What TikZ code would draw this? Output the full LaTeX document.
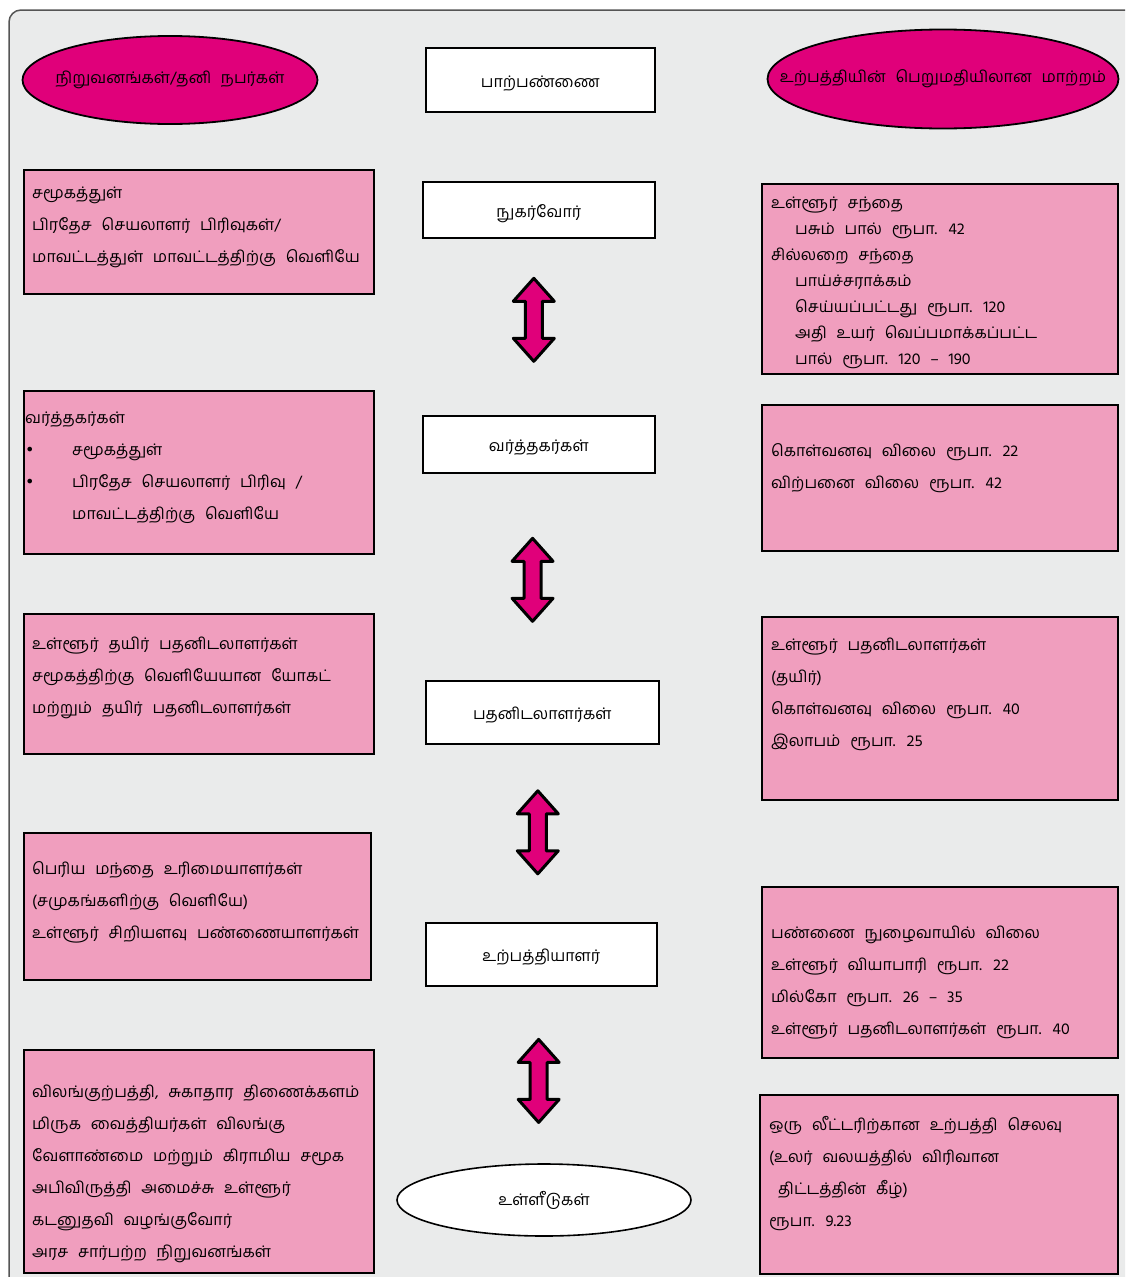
\documentclass[tikz,border=0pt]{standalone}
\usepackage{fontspec}
\usepackage{tikz}
\usetikzlibrary{shapes.geometric}
\usetikzlibrary{calc,positioning}
\newfontfamily\tamilfont[Script=Tamil,WordSpace=2.5]{Hind Madurai}
\newfontfamily\symbolfont{DejaVu Sans}
\definecolor{panelgray}{RGB}{234,235,235}
\definecolor{panelline}{RGB}{85,85,85}
\definecolor{magentafill}{RGB}{224,0,122}
\definecolor{pinkfill}{RGB}{240,158,190}
\newcommand{\bul}{\makebox[47pt][l]{\symbolfont •}}
\newcommand{\ind}{\hspace*{24pt}}

\begin{document}
\begin{tikzpicture}[x=1pt,y=-1pt,
	tamil/.style={font=\tamilfont\fontsize{16}{32}\selectfont},
	pinkbox/.style={draw,line width=2pt,fill=pinkfill,anchor=north west,inner sep=0pt},
	whitebox/.style={draw,line width=1.6pt,fill=white,anchor=north west,inner sep=0pt,tamil,text height=15pt,text depth=0pt},
	oval/.style={ellipse,draw,line width=1.8pt,fill=magentafill,inner sep=0pt},
	boxtext/.style={tamil,align=left,inner sep=0pt,execute at begin node=\strut},
	flow/.pic={\draw[line width=3pt,line join=round,fill=magentafill]
		(0,-41.5) -- (20.5,-18.5) -- (8.5,-18.5) -- (8.5,18.5) -- (20.5,18.5) -- (0,41.5)
		-- (-20.5,18.5) -- (-8.5,18.5) -- (-8.5,-18.5) -- (-20.5,-18.5) -- cycle;}]
			\useasboundingbox (0,0) rectangle (1125,1277);
			\clip (0,0) rectangle (1125,1277);
			\draw[panelline,line width=1.5pt,fill=panelgray,rounded corners=12pt] (9,10) rectangle (1145,1290);

			\node[oval,minimum width=295pt,minimum height=88pt] (leftOval) at (170,80) {};
			\node[tamil] (leftOvalt) at (leftOval.center) {நிறுவனங்கள்/தனி நபர்கள்};
			\node[oval,minimum width=351pt,minimum height=99pt] (rightOval) at (943,79) {};
			\node[tamil] (rightOvalt) at (rightOval.center) {உற்பத்தியின் பெறுமதியிலான மாற்றம்};

			\node[whitebox,minimum width=229pt,minimum height=64pt] (parpannai) at (425,47) {பாற்பண்ணை};
			\node[whitebox,minimum width=232pt,minimum height=56pt] (nugarvor) at (422,181) {நுகர்வோர்};
			\node[whitebox,minimum width=232pt,minimum height=57pt] (varthagar) at (422,415) {வர்த்தகர்கள்};
			\node[whitebox,minimum width=233pt,minimum height=63pt] (pathanidal) at (425,680) {பதனிடலாளர்கள்};
			\node[whitebox,minimum width=231pt,minimum height=63pt] (urpathi) at (425,922) {உற்பத்தியாளர்};
			\node[ellipse,draw,line width=1.6pt,fill=white,inner sep=0pt,tamil,minimum width=294pt,minimum height=72pt] (ulleedu) at (544,1200) {உள்ளீடுகள்};

			\node[pinkbox,minimum width=350pt,minimum height=124pt] (nugarvorL) at (23,169) {};
			\node[pinkbox,minimum width=350pt,minimum height=163pt] (varthagarL) at (23,390) {};
			\node[pinkbox,minimum width=350pt,minimum height=140pt] (pathanidalL) at (23,613) {};
			\node[pinkbox,minimum width=347pt,minimum height=147pt] (urpathiL) at (23,832) {};
			\node[pinkbox,minimum width=350pt,minimum height=223pt] (ulleeduL) at (23,1049) {};

			\node[pinkbox,minimum width=356pt,minimum height=190pt] (nugarvorR) at (761,183) {};
			\node[pinkbox,minimum width=356pt,minimum height=146pt] (varthagarR) at (761,404) {};
			\node[pinkbox,minimum width=356pt,minimum height=183pt] (pathanidalR) at (761,616) {};
			\node[pinkbox,minimum width=356pt,minimum height=171pt] (urpathiR) at (761,886) {};
			\node[pinkbox,minimum width=358pt,minimum height=179pt] (ulleeduR) at (759,1094) {};

			\node[boxtext,below right=18pt and 9pt of nugarvorL.north west] (nugarvorLt)
				{சமூகத்துள்\\பிரதேச செயலாளர் பிரிவுகள்/\\மாவட்டத்துள் மாவட்டத்திற்கு வெளியே};
			\node[boxtext,below right=22pt and 2pt of varthagarL.north west] (varthagarLt)
				{வர்த்தகர்கள்\\\bul சமூகத்துள்\\\bul பிரதேச செயலாளர் பிரிவு /\\\hspace*{47pt}மாவட்டத்திற்கு வெளியே};
			\node[boxtext,below right=24pt and 9pt of pathanidalL.north west] (pathanidalLt)
				{உள்ளூர் தயிர் பதனிடலாளர்கள்\\சமூகத்திற்கு வெளியேயான யோகட்\\மற்றும் தயிர் பதனிடலாளர்கள்};
			\node[boxtext,below right=29pt and 9pt of urpathiL.north west] (urpathiLt)
				{பெரிய மந்தை உரிமையாளர்கள்\\(சமுகங்களிற்கு வெளியே)\\உள்ளூர் சிறியளவு பண்ணையாளர்கள்};
			\node[boxtext,below right=36pt and 9pt of ulleeduL.north west] (ulleeduLt)
				{விலங்குற்பத்தி, சுகாதார திணைக்களம்\\மிருக வைத்தியர்கள் விலங்கு\\வேளாண்மை மற்றும் கிராமிய சமூக\\அபிவிருத்தி அமைச்சு உள்ளூர்\\கடனுதவி வழங்குவோர்\\அரச சார்பற்ற நிறுவனங்கள்};

			\node[boxtext,font=\tamilfont\fontsize{16}{26}\selectfont,below right=14pt and 10pt of nugarvorR.north west] (nugarvorRt)
				{உள்ளூர் சந்தை\\\ind பசும் பால் ரூபா. 42\\சில்லறை சந்தை\\\ind பாய்ச்சராக்கம்\\\ind செய்யப்பட்டது ரூபா. 120\\\ind அதி உயர் வெப்பமாக்கப்பட்ட\\\ind பால் ரூபா. 120 – 190};
			\node[boxtext,below right=39pt and 10pt of varthagarR.north west] (varthagarRt)
				{கொள்வனவு விலை ரூபா. 22\\விற்பனை விலை ரூபா. 42};
			\node[boxtext,below right=22pt and 10pt of pathanidalR.north west] (pathanidalRt)
				{உள்ளூர் பதனிடலாளர்கள்\\(தயிர்)\\கொள்வனவு விலை ரூபா. 40\\இலாபம் ரூபா. 25};
			\node[boxtext,below right=40pt and 10pt of urpathiR.north west] (urpathiRt)
				{பண்ணை நுழைவாயில் விலை\\உள்ளூர் வியாபாரி ரூபா. 22\\மில்கோ ரூபா. 26 – 35\\உள்ளூர் பதனிடலாளர்கள் ரூபா. 40};
			\node[boxtext,below right=22pt and 10pt of ulleeduR.north west] (ulleeduRt)
				{ஒரு லீட்டரிற்கான உற்பத்தி செலவு\\(உலர் வலயத்தில் விரிவான\\\hspace*{9pt}திட்டத்தின் கீழ்)\\ரூபா. 9.23};

			\pic (arrA) at ($(nugarvor.south)!0.5!(varthagar.north)+(-5,-7)$) {flow};
			\pic (arrB) at ($(varthagar.south)!0.5!(pathanidal.north)+(-8,3)$) {flow};
			\pic (arrC) at ($(pathanidal.south)!0.5!(urpathi.north)+(-4,-1)$) {flow};
			\pic (arrD) at ($(urpathi.south)!0.5!(ulleedu.north)+(-4,6)$) {flow};
		\end{tikzpicture}
\end{document}
